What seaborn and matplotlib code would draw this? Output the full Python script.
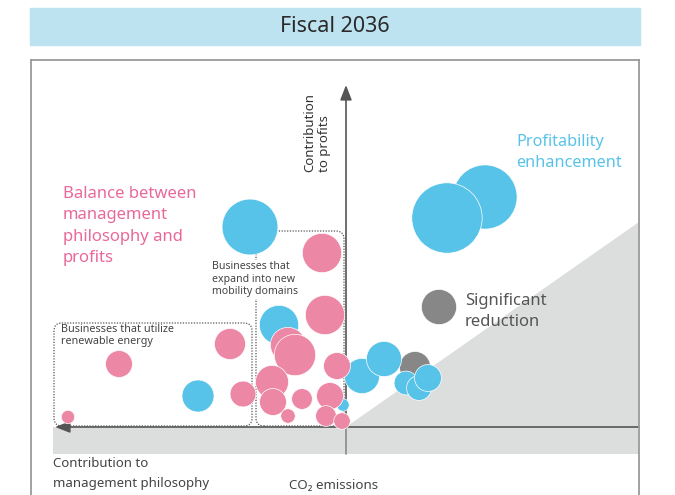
import matplotlib
matplotlib.use("Agg")
import matplotlib.pyplot as plt
from matplotlib.patches import FancyBboxPatch, Rectangle
import seaborn as sns
import pandas as pd

# バブルの位置 (x: CO2 削減方向, y: 利益貢献) と直径
gray_x = [9.3, 6.9]
gray_y = [12.0, 6.0]
gray_d = [3.4, 3.0]

blue_x = [13.9, 10.1, -9.6, -6.7, -14.8, 1.6, 3.8, 6.0, 7.3, 8.2, -0.3]
blue_y = [23.0, 20.9, 20.0, 10.2, 3.1, 5.1, 6.8, 4.4, 3.9, 4.9, 2.2]
blue_d = [6.2, 6.8, 5.4, 3.8, 3.1, 3.4, 3.4, 2.3, 2.4, 2.6, 1.2]

pink_x = [-2.4, -2.1, -11.6, -22.7, -27.8, -10.3, -5.8, -5.1, -7.4, -7.3,
          -4.4, -5.8, -0.9, -1.6, -2.0, -0.4]
pink_y = [17.4, 11.2, 8.3, 6.3, 1.0, 3.3, 8.2, 7.2, 4.5, 2.5,
          2.8, 1.1, 6.1, 3.1, 1.1, 0.6]
pink_d = [3.8, 3.8, 3.0, 2.6, 1.3, 2.5, 3.4, 4.0, 3.2, 2.6,
          2.0, 1.4, 2.6, 2.6, 2.0, 1.6]

groups = ["gray", "blue", "pink"]
palette = {"gray": "#878787", "blue": "#58c3e9", "pink": "#ec87a6"}

rows = []
for g, xs, ys, ds in [("gray", gray_x, gray_y, gray_d),
                      ("blue", blue_x, blue_y, blue_d),
                      ("pink", pink_x, pink_y, pink_d)]:
    for x, y, d in zip(xs, ys, ds):
        rows.append({"group": g, "x": x, "y": y, "d": d})
df = pd.DataFrame(rows)

sns.set_style("white")
plt.rcParams["font.family"] = ["Noto Sans", "DejaVu Sans"]

fig = plt.figure(figsize=(6.75, 4.95), dpi=100)
ax = fig.add_axes([31 / 675, 0, 608 / 675, 435 / 495])
ax.set_xlim(-31.5, 29.3)
ax.set_ylim(-6.8, 36.7)

# 灰色の領域（下の帯 + 右下の三角形）
ax.fill([-29.3, 0, 29.3, 29.3, -29.3], [0, 0, 20.5, -2.7, -2.7],
        color="#dcdddd", lw=0, zorder=0)

# 点線の枠
box1 = FancyBboxPatch((-29.2, 0.1), 19.8, 10.3,
                      boxstyle="round,pad=0,rounding_size=0.8",
                      fill=False, ls=(0, (1, 1.2)), lw=0.9, ec="#555555", zorder=1)
box2 = FancyBboxPatch((-9.0, 0.1), 8.8, 19.5,
                      boxstyle="round,pad=0,rounding_size=0.8",
                      fill=False, ls=(0, (1, 1.2)), lw=0.9, ec="#555555", zorder=1)
ax.add_patch(box1)
ax.add_patch(box2)

# 軸の矢印
ax.plot([0, 0], [-2.7, 0], color="#8a8a8a", lw=1.2, zorder=1)
ax.annotate("", xy=(0, 34.2), xytext=(0, 0),
            arrowprops=dict(arrowstyle="-|>,head_length=0.9,head_width=0.35",
                            color="#555555", lw=1.2, shrinkA=0, shrinkB=0), zorder=2)
ax.annotate("", xy=(-29.1, 0), xytext=(29.3, 0),
            arrowprops=dict(arrowstyle="-|>,head_length=0.9,head_width=0.35",
                            color="#555555", lw=1.2, shrinkA=0, shrinkB=0), zorder=2)

# バブル
sizes = (df["d"] * 7.45) ** 2
sns.scatterplot(data=df, x="x", y="y", hue="group", hue_order=groups,
                palette=palette, s=sizes, edgecolor="white", linewidth=0.5,
                legend=False, ax=ax, zorder=3)

# テキスト
ax.text(-28.3, 24.1, "Balance between\nmanagement\nphilosophy and\nprofits",
        color="#e8689a", fontsize=12, va="top", ha="left", linespacing=1.45)
ax.text(17.0, 29.3, "Profitability\nenhancement", color="#58c3e9",
        fontsize=11.7, va="top", ha="left", linespacing=1.45)
ax.text(11.9, 13.4, "Significant\nreduction", color="#555555",
        fontsize=12, va="top", ha="left", linespacing=1.45)
ax.text(-2.9, 25.5, "Contribution\nto profits", color="#333333", fontsize=9.5,
        rotation=90, ha="center", va="bottom", multialignment="left",
        linespacing=1.2)
ax.text(-28.5, 10.3, "Businesses that utilize\nrenewable energy", color="#444444",
        fontsize=7.8, va="top", ha="left", linespacing=1.15, zorder=4)
ax.text(-13.4, 16.6, "Businesses that\nexpand into new\nmobility domains",
        color="#444444", fontsize=7.6, va="top", ha="left", linespacing=1.2,
        zorder=4, bbox=dict(fc="white", ec="none", pad=1))
ax.text(-29.3, -3.0, "Contribution to\nmanagement philosophy", color="#444444",
        fontsize=9.5, va="top", ha="left", linespacing=1.65)
ax.text(-5.7, -5.2, "CO₂ emissions", color="#444444", fontsize=9.6,
        va="top", ha="left")

ax.set_xticks([])
ax.set_yticks([])
ax.set_xlabel("")
ax.set_ylabel("")
for side in ["left", "top", "right"]:
    ax.spines[side].set_color("#9a9a9a")
    ax.spines[side].set_linewidth(1.3)
ax.spines["bottom"].set_visible(False)

# タイトル帯
fig.patches.append(Rectangle((30 / 675, 1 - 45 / 495), 610 / 675, 37 / 495,
                             transform=fig.transFigure, color="#bde3f0", zorder=0))
fig.text(335 / 675, 1 - 27 / 495, "Fiscal 2036", ha="center", va="center",
         fontsize=15.5, color="#2a2a2a")

fig.savefig("out.png", dpi=100)
